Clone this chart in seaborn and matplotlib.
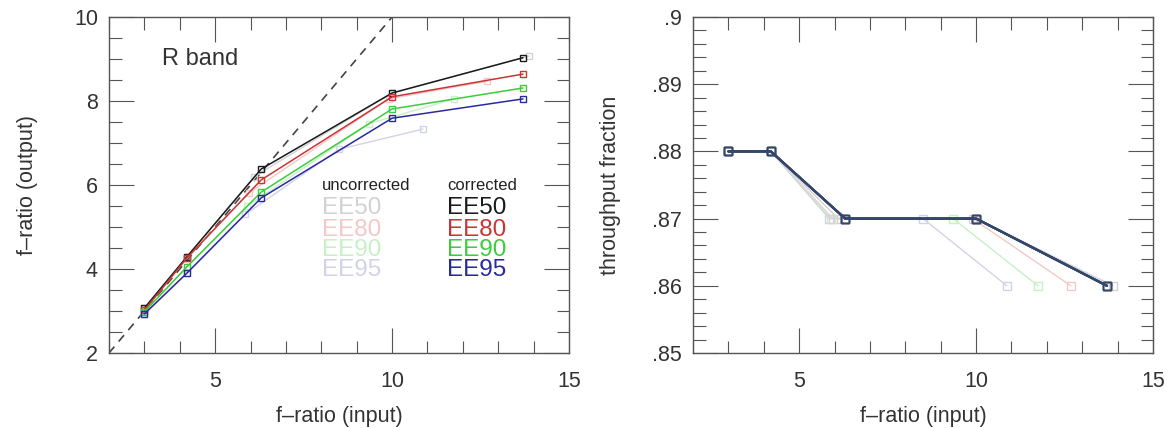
import numpy as np
import pandas as pd
import matplotlib
matplotlib.use("Agg")
import matplotlib.pyplot as plt
from matplotlib.ticker import MultipleLocator, FuncFormatter
import seaborn as sns

# ---------------- data ----------------
series_names = ["EE50", "EE80", "EE90", "EE95"]

# corrected: input f-ratio
x_corrected = [3.0, 4.2, 6.3, 10.0, 13.7]
# corrected: output f-ratio (left panel)
fout_EE50 = [3.07, 4.29, 6.38, 8.19, 9.03]
fout_EE80 = [3.02, 4.26, 6.12, 8.10, 8.64]
fout_EE90 = [2.98, 4.05, 5.83, 7.81, 8.31]
fout_EE95 = [2.93, 3.90, 5.69, 7.59, 8.05]

# uncorrected: input f-ratio per series
xu_EE50 = [3.0, 4.2, 6.1, 10.0, 13.87]
xu_EE80 = [3.0, 4.2, 5.95, 9.9, 12.68]
xu_EE90 = [3.0, 4.2, 5.9, 9.35, 11.75]
xu_EE95 = [3.0, 4.2, 5.85, 8.5, 10.87]
# uncorrected: output f-ratio
foutu_EE50 = [3.07, 4.29, 6.20, 8.19, 9.07]
foutu_EE80 = [3.02, 4.26, 5.81, 8.05, 8.47]
foutu_EE90 = [2.98, 4.05, 5.49, 7.46, 8.05]
foutu_EE95 = [2.93, 3.90, 5.30, 6.85, 7.33]

# throughput fraction (right panel)
thr_corrected = [0.88, 0.88, 0.87, 0.87, 0.86]
thr_uncorrected = [0.88, 0.88, 0.87, 0.87, 0.86]

identity_line = [2, 10]

left_yticks = [2, 4, 6, 8, 10]
right_yticks = [0.85, 0.86, 0.87, 0.88, 0.89, 0.90]
xticks = [5, 10, 15]

colors_corr = {"EE50": "#1a1a1a", "EE80": "#c93535", "EE90": "#3ccc3c", "EE95": "#2a2aa0"}
colors_unc = {"EE50": "#d2d2d2", "EE80": "#f2c8c8", "EE90": "#c6f0c6", "EE95": "#d2d2e8"}
right_corr_color = "#34466a"

fout_c = dict(zip(series_names, [fout_EE50, fout_EE80, fout_EE90, fout_EE95]))
fout_u = dict(zip(series_names, [foutu_EE50, foutu_EE80, foutu_EE90, foutu_EE95]))
xu = dict(zip(series_names, [xu_EE50, xu_EE80, xu_EE90, xu_EE95]))

# ---------------- style ----------------
sns.set_theme(style="ticks")
plt.rcParams["font.family"] = ["Liberation Sans", "DejaVu Sans"]
TXT = "#333333"
plt.rcParams.update({
    "text.color": TXT, "axes.labelcolor": TXT,
    "xtick.color": "#555555", "ytick.color": "#555555",
    "xtick.labelcolor": TXT, "ytick.labelcolor": TXT,
    "axes.edgecolor": "#555555", "axes.linewidth": 1.0,
})

fig = plt.figure(figsize=(11.72, 4.28), dpi=100)
W, H = 1172, 428
ax1 = fig.add_axes([109 / W, 1 - 353 / H, 460 / W, 336 / H])
ax2 = fig.add_axes([693 / W, 1 - 353 / H, 460 / W, 336 / H])

def plot_series(ax, x, y, color, lw, ms, z):
    df = pd.DataFrame({"x": x, "y": y})
    sns.lineplot(data=df, x="x", y="y", ax=ax, color=color, lw=lw,
                 marker="s", markersize=ms, markerfacecolor="none",
                 markeredgecolor=color, markeredgewidth=1.0,
                 sort=False, estimator=None, zorder=z, legend=False)

# left panel
ax1.plot(identity_line, identity_line, ls=(0, (5, 4)), color="#444444", lw=1.2, zorder=1)
for s in series_names:
    plot_series(ax1, xu[s], fout_u[s], colors_unc[s], 1.0, 5, 2)
for s in series_names:
    plot_series(ax1, x_corrected, fout_c[s], colors_corr[s], 1.1, 5, 3)

# right panel
for s in series_names:
    plot_series(ax2, xu[s], thr_uncorrected, colors_unc[s], 1.0, 6, 2)
for s in series_names:
    plot_series(ax2, x_corrected, thr_corrected, right_corr_color, 1.6, 6, 3)

# axes formatting
for ax in (ax1, ax2):
    ax.set_xlim(2, 15)
    ax.set_xticks(xticks)
    ax.xaxis.set_minor_locator(MultipleLocator(1))
    ax.tick_params(which="both", direction="in", top=True, right=True,
                   labelsize=15.5, width=0.8)
    ax.tick_params(which="major", length=18)
    ax.tick_params(which="minor", length=9)
    ax.tick_params(axis="x", which="major", pad=13)
    ax.tick_params(axis="y", which="major", pad=8)
    ax.set_xlabel("f–ratio (input)", fontsize=15.5, labelpad=10)
    for sp in ax.spines.values():
        sp.set_visible(True)

ax1.set_ylim(2, 10)
ax1.set_yticks(left_yticks)
ax1.yaxis.set_minor_locator(MultipleLocator(0.5))
ax1.set_ylabel("f–ratio (output)", fontsize=15.5, labelpad=26)

ax2.set_ylim(0.85, 0.90)
ax2.set_yticks(right_yticks)
ax2.yaxis.set_minor_locator(MultipleLocator(0.002))
ax2.yaxis.set_major_formatter(FuncFormatter(lambda v, p: ("%g" % round(v, 3)).lstrip("0")))
ax2.set_ylabel("throughput fraction", fontsize=15.5, labelpad=22)

# annotations
ax1.text(3.5, 9.0, "R band", fontsize=17, va="center", ha="left", color=TXT)
ax1.text(8.02, 6.0, "uncorrected", fontsize=12, va="center", ha="left", color="#222222")
ax1.text(11.55, 6.0, "corrected", fontsize=12, va="center", ha="left", color="#222222")
label_y = [5.45, 4.93, 4.45, 3.98]
for s, yy in zip(series_names, label_y):
    ax1.text(8.02, yy, s, fontsize=17.5, va="center", ha="left", color=colors_unc[s])
    ax1.text(11.55, yy, s, fontsize=17.5, va="center", ha="left", color=colors_corr[s])

fig.savefig("out.png", dpi=100)
